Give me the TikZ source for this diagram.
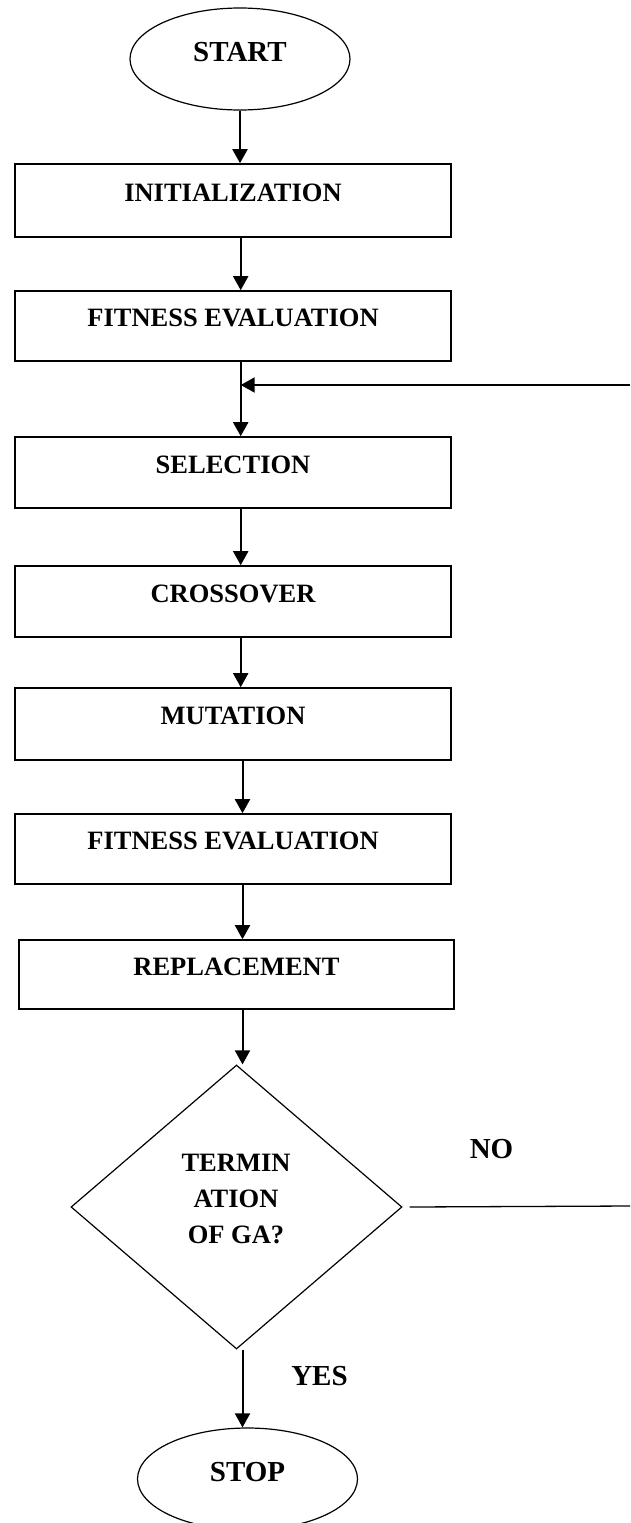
\documentclass[tikz,border=0pt]{standalone}
\usepackage{fontspec}
\setmainfont{Liberation Serif}
\usetikzlibrary{arrows.meta,shapes.geometric}
\tikzset{
 boxnode/.style={draw, line width=1.6pt, minimum width=436pt, inner sep=0pt,
   font=\fontsize{26.5}{30}\selectfont\bfseries, text height=20pt, text depth=19pt},
 termnode/.style={draw, ellipse, line width=1.2pt, minimum width=220pt, minimum height=102pt,
   inner sep=0pt, font=\fontsize{29}{33}\selectfont\bfseries, text height=22pt, text depth=16.8pt},
 decnode/.style={draw, diamond, line width=1.2pt, minimum width=331pt, minimum height=284pt, inner sep=0pt},
 dectext/.style={align=center, inner sep=0pt, font=\fontsize{26.5}{35.7}\selectfont\bfseries},
 arr/.style={line width=2pt, -{Triangle[length=14pt,width=15pt]}},
 plainline/.style={line width=1.3pt},
 lbl/.style={font=\fontsize{29}{33}\selectfont\bfseries, inner sep=0pt}
}
\begin{document}
\begin{tikzpicture}[x=1pt,y=-1pt]
\useasboundingbox (0,0) rectangle (630,1523);
\node[termnode] (start) at (240,59) {START};
\node[boxnode, minimum height=73pt] (init) at (233,200.5) {INITIALIZATION};
\node[boxnode, minimum height=70pt] (fit1) at (233,326) {FITNESS EVALUATION};
\node[boxnode, minimum height=71pt] (sel) at (233,472.5) {SELECTION};
\node[boxnode, minimum height=71pt] (cross) at (233,601.5) {CROSSOVER};
\node[boxnode, minimum height=72pt] (mut) at (233,724) {MUTATION};
\node[boxnode, minimum height=70pt] (fit2) at (233,849) {FITNESS EVALUATION};
\node[boxnode, minimum height=69pt, minimum width=435pt] (repl) at (236.5,974.5) {REPLACEMENT};
\node[decnode] (dia) at (236.5,1207) {};
\node[dectext] (dtext) at (236,1199) {TERMIN\\ATION\\OF GA?};
\node[termnode] (stop) at (247.5,1479) {STOP};
\node[lbl] (no) at (491.5,1149) {NO};
\node[lbl] (yes) at (319.5,1376) {YES};

\coordinate (colA) at (240.7,0);
\coordinate (colB) at (242.5,0);
\coordinate (fbin) at (630,385);
\coordinate (noend) at (630,1206);

\draw[arr] (start.south) -- (start.south |- init.north);
\draw[arr] (colA |- init.south) -- (colA |- fit1.north);
\draw[arr] (colA |- fit1.south) -- (colA |- sel.north);
\draw[arr] (fbin) -- (colA |- fbin);
\draw[arr] (colA |- sel.south) -- (colA |- cross.north);
\draw[arr] (colA |- cross.south) -- (colA |- mut.north);
\draw[arr] (colB |- mut.south) -- (colB |- fit2.north);
\draw[arr] (colB |- fit2.south) -- (colB |- repl.north);
\draw[arr] (colB |- repl.south) -- (colB |- dia.north);
\draw[arr] (colB |- dia.south) -- (colB |- stop.north);
\draw[plainline] ([xshift=7pt]dia.east) -- (noend);
\end{tikzpicture}
\end{document}
